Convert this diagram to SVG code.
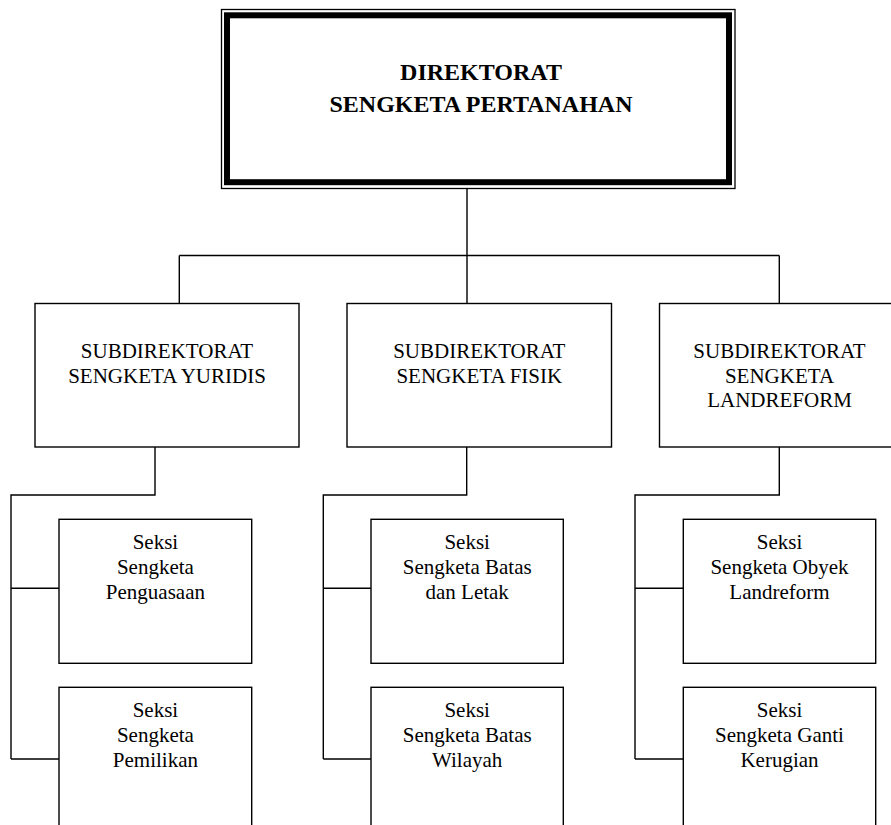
<svg xmlns="http://www.w3.org/2000/svg" width="891" height="825" viewBox="0 0 891 825">
<style>
.box{fill:#fff;stroke:#000;stroke-width:1.4}
.ln{fill:none;stroke:#000;stroke-width:1.4}
.t{font-family:"Liberation Serif","Times New Roman",serif;font-size:21px;text-anchor:middle;fill:#000}
.tb{font-family:"Liberation Serif","Times New Roman",serif;font-size:24px;font-weight:bold;text-anchor:middle;fill:#000}
</style>
<rect width="891" height="825" fill="#fff"/>
<g id="connectors">
<path class="ln" d="M467 188.5V303.5M179.3 255.5H779.3M179.3 255.5V303.5M779.3 255.5V303.5"/>
<path class="ln" d="M155 447V495H11V759M11 588.3H59M11 759H59"/>
<path class="ln" d="M466.7 447V495H323.3V759M323.3 588.3H371M323.3 759H371"/>
<path class="ln" d="M779.3 447V495H635V759M635 588.3H683.3M635 759H683.3"/>
</g>
<g id="direktorat">
<rect x="221.5" y="9.5" width="513.5" height="179" fill="#fff" stroke="#000" stroke-width="1.3"/>
<rect x="227" y="15.3" width="502" height="166.9" fill="#fff" stroke="#000" stroke-width="6"/>
<text class="tb" x="481" y="80">DIREKTORAT</text>
<text class="tb" x="481" y="111.7">SENGKETA PERTANAHAN</text>
</g>
<g id="sub-yuridis">
<rect class="box" x="35" y="303.5" width="264" height="143.5"/>
<text class="t" x="167" y="358.3">SUBDIREKTORAT</text>
<text class="t" x="167" y="382.7">SENGKETA YURIDIS</text>
</g>
<g id="sub-fisik">
<rect class="box" x="347" y="303.5" width="264.5" height="143.5"/>
<text class="t" x="479.3" y="358.3">SUBDIREKTORAT</text>
<text class="t" x="479.3" y="382.7">SENGKETA FISIK</text>
</g>
<g id="sub-landreform">
<rect class="box" x="659.5" y="303.5" width="264.5" height="143.5"/>
<text class="t" x="779.5" y="358.3">SUBDIREKTORAT</text>
<text class="t" x="779.5" y="382.5">SENGKETA</text>
<text class="t" x="779.5" y="406.7">LANDREFORM</text>
</g>
<g id="seksi-penguasaan">
<rect class="box" x="59" y="519.3" width="192.7" height="144"/>
<text class="t" x="155.4" y="549.3">Seksi</text>
<text class="t" x="155.4" y="574">Sengketa</text>
<text class="t" x="155.4" y="598.7">Penguasaan</text>
</g>
<g id="seksi-pemilikan">
<rect class="box" x="59" y="687.3" width="192.7" height="144"/>
<text class="t" x="155.4" y="717.3">Seksi</text>
<text class="t" x="155.4" y="742">Sengketa</text>
<text class="t" x="155.4" y="766.7">Pemilikan</text>
</g>
<g id="seksi-batas-letak">
<rect class="box" x="371" y="519.3" width="192.3" height="144"/>
<text class="t" x="467.2" y="549.3">Seksi</text>
<text class="t" x="467.2" y="574">Sengketa Batas</text>
<text class="t" x="467.2" y="598.7">dan Letak</text>
</g>
<g id="seksi-batas-wilayah">
<rect class="box" x="371" y="687.3" width="192.3" height="144"/>
<text class="t" x="467.2" y="717.3">Seksi</text>
<text class="t" x="467.2" y="742">Sengketa Batas</text>
<text class="t" x="467.2" y="766.7">Wilayah</text>
</g>
<g id="seksi-obyek-landreform">
<rect class="box" x="683.3" y="519.3" width="192.4" height="144"/>
<text class="t" x="779.5" y="549.3">Seksi</text>
<text class="t" x="779.5" y="574">Sengketa Obyek</text>
<text class="t" x="779.5" y="598.7">Landreform</text>
</g>
<g id="seksi-ganti-kerugian">
<rect class="box" x="683.3" y="687.3" width="192.4" height="144"/>
<text class="t" x="779.5" y="717.3">Seksi</text>
<text class="t" x="779.5" y="742">Sengketa Ganti</text>
<text class="t" x="779.5" y="766.7">Kerugian</text>
</g>
</svg>
